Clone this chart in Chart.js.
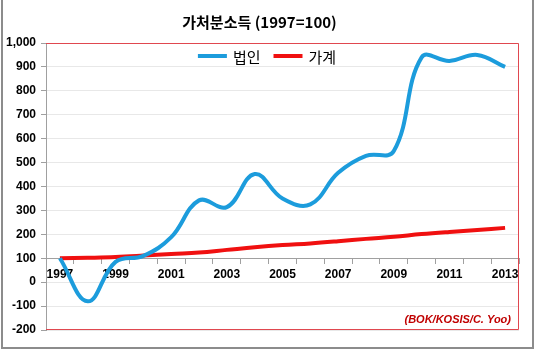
<!DOCTYPE html>
<html>
<head>
<meta charset="utf-8">
<script src="https://cdn.jsdelivr.net/npm/chart.js@4"></script>
<style>
  body { margin: 0; background: #fff; }
  #wrap { position: relative; width: 535px; height: 350px; }
  #frame { position: absolute; left: 1px; top: 0; width: 529px; height: 347px;
    border-left: 2px solid #8c8c8c; border-right: 2px solid #8c8c8c; border-bottom: 2px solid #8c8c8c; }
  canvas { position: absolute; left: 0; top: 0; }
</style>
</head>
<body>
<div id="wrap">
  <canvas id="myChart" width="535" height="350"></canvas>
  <div id="frame"></div>
</div>
<script>
const years = ['1997', '1998', '1999', '2000', '2001', '2002', '2003', '2004', '2005',
  '2006', '2007', '2008', '2009', '2010', '2011', '2012', '2013'];
const corporate = [100, -80, 85, 110, 188, 342, 314, 452, 350, 325, 457, 528, 548, 940, 925, 950, 900];
const household = [100, 102, 105, 111, 118, 124, 135, 146, 155, 162, 171, 181, 190, 201, 210, 218, 227];
const seriesNames = ['법인', '가계'];
const titleText = '가처분소득 (1997=100)';
const sourceText = '(BOK/KOSIS/C. Yoo)';

// red frame on top/right/bottom of the plot, source note, legend inside the plot
const plotExtras = {
  id: 'plotExtras',
  beforeDatasetsDraw(chart) {
    const { ctx, chartArea: a } = chart;
    ctx.save();
    ctx.strokeStyle = '#e0474f';
    ctx.lineWidth = 1;
    ctx.beginPath();
    ctx.moveTo(a.left, a.top + 0.5);
    ctx.lineTo(a.right - 0.5, a.top + 0.5);
    ctx.lineTo(a.right - 0.5, a.bottom - 0.5);
    ctx.lineTo(a.left, a.bottom - 0.5);
    ctx.stroke();
    ctx.restore();
  },
  afterDatasetsDraw(chart) {
    const { ctx, chartArea: a } = chart;
    ctx.save();
    ctx.font = 'italic bold 11px "Liberation Sans", Arial, sans-serif';
    ctx.fillStyle = '#c00000';
    ctx.textAlign = 'right';
    ctx.textBaseline = 'middle';
    ctx.fillText(sourceText, a.right - 8, a.bottom - 10);

    // legend
    ctx.font = '15px "Noto Sans CJK KR", sans-serif';
    const lineLen = 29, gap = 6, between = 13;
    const sets = chart.data.datasets;
    let total = 0;
    sets.forEach((ds, i) => {
      total += lineLen + gap + ctx.measureText(ds.label).width + (i ? between : 0);
    });
    let x = 267 - total / 2;
    const y = a.top + 13;
    ctx.textAlign = 'left';
    sets.forEach((ds) => {
      ctx.strokeStyle = ds.borderColor;
      ctx.lineWidth = 4;
      ctx.beginPath();
      ctx.moveTo(x, y);
      ctx.lineTo(x + lineLen, y);
      ctx.stroke();
      x += lineLen + gap;
      ctx.fillStyle = '#000';
      ctx.fillText(ds.label, x, y + 1);
      x += ctx.measureText(ds.label).width + between;
    });
    ctx.restore();
  }
};

const tickFont = { family: '"Liberation Sans", Arial, sans-serif', size: 12, weight: 'bold' };

const data = {
  labels: years,
  datasets: [
    {
      label: seriesNames[0],
      data: corporate,
      borderColor: '#1c9cdc',
      backgroundColor: '#1c9cdc',
      borderWidth: 4,
      pointRadius: 0,
      tension: 0.4
    },
    {
      label: seriesNames[1],
      data: household,
      borderColor: '#f01010',
      backgroundColor: '#f01010',
      borderWidth: 4,
      pointRadius: 0,
      tension: 0.4
    }
  ]
};

const config = {
  type: 'line',
  data: data,
  options: {
    responsive: false,
    animation: false,
    layout: { padding: { left: 0, right: 16, top: 0, bottom: 20 } },
    plugins: {
      legend: { display: false },
      tooltip: { enabled: false },
      title: {
        display: true,
        text: titleText,
        color: '#000',
        font: { family: '"Noto Sans CJK KR", sans-serif', size: 15, weight: 'bold', lineHeight: 1.2 },
        padding: { top: 13, bottom: 12 }
      }
    },
    scales: {
      x: {
        position: { y: 100 },
        offset: true,
        grid: { offset: true, drawOnChartArea: false, drawTicks: true, tickLength: 5, color: '#a0a0a0' },
        border: { color: '#a0a0a0' },
        ticks: {
          autoSkip: false,
          maxRotation: 0,
          padding: 4,
          color: '#000',
          font: tickFont,
          callback: (val, i) => (i % 2 === 0 ? years[i] : '')
        }
      },
      y: {
        min: -200,
        max: 1000,
        afterFit: (s) => { s.width = 46; },
        grid: { color: '#e8e8e8', tickColor: '#a0a0a0', tickLength: 5 },
        border: { color: '#a0a0a0' },
        ticks: {
          stepSize: 100,
          padding: 5,
          color: '#000',
          font: tickFont,
          callback: (v) => v.toLocaleString('en-US')
        }
      }
    }
  },
  plugins: [plotExtras]
};

new Chart(document.querySelector('#myChart'), config);
</script>
</body>
</html>
